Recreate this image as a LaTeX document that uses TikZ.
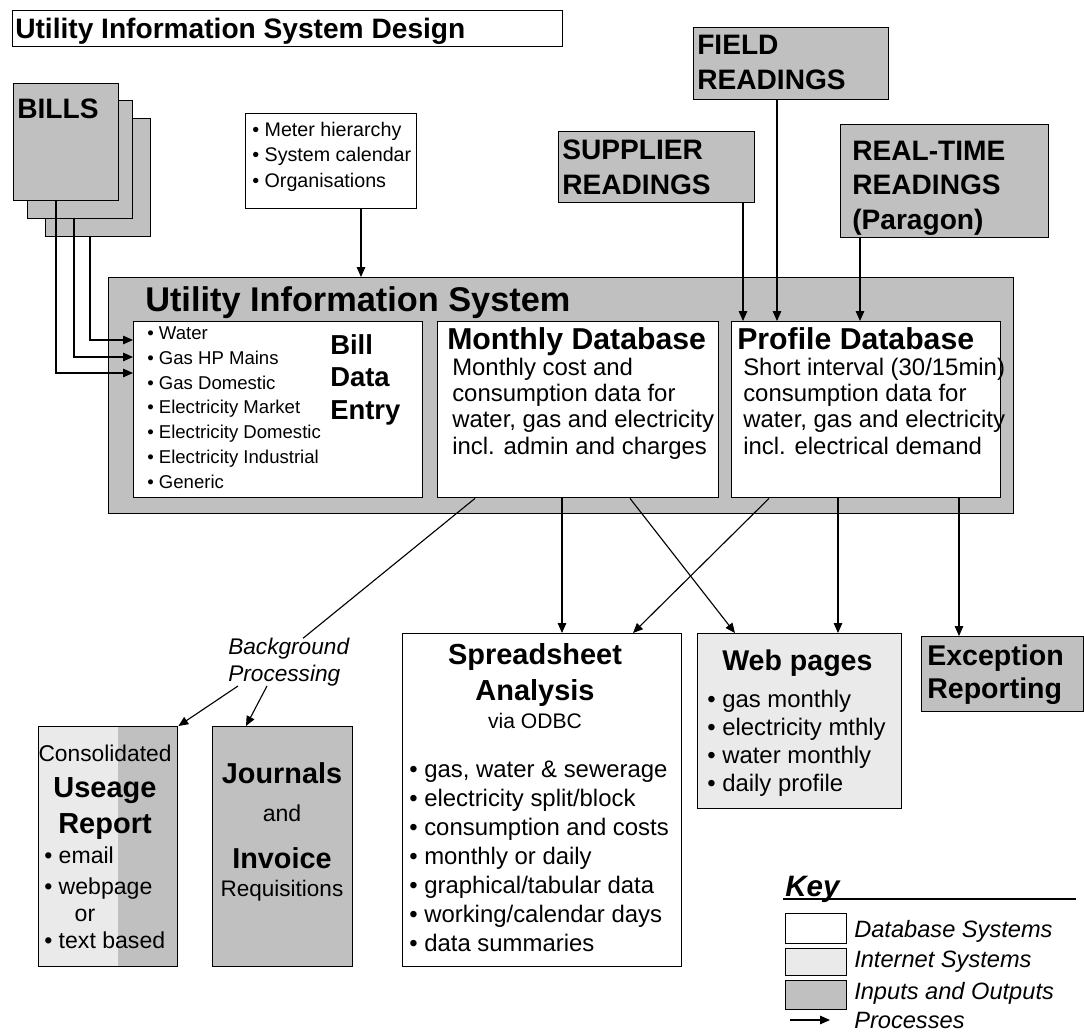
\documentclass[tikz,border=0pt]{standalone}
\usepackage{fontspec}
\setmainfont{Liberation Sans}
\usetikzlibrary{arrows.meta,calc}
\definecolor{boxgray}{RGB}{192,192,192}
\definecolor{netgray}{RGB}{234,234,234}
\newcommand{\fs}[2]{\fontsize{#1}{#2}\selectfont}
\tikzset{
  boxsize/.style 2 args={minimum width=#1*0.025cm, minimum height=#2*0.025cm},
  dbbox/.style={draw, fill=white, line width=1pt, inner sep=0, anchor=north west},
  netbox/.style={dbbox, fill=netgray},
  iobox/.style={dbbox, fill=boxgray},
  txt/.style={inner sep=0, anchor=base west, align=left},
  ctxt/.style={inner sep=0, anchor=base, align=center},
  flow/.style={->, line width=0.8pt}}

\begin{document}
\begin{tikzpicture}[x=0.025cm, y=-0.025cm, >={Triangle[length=7pt,width=6pt]}]
  \useasboundingbox (0,0) rectangle (1084,1033);

  \node[dbbox, boxsize={550}{36}] (titlebox) at (12,10) {};
  \node[txt, font=\fs{20}{24}\bfseries] (title) at (15,38) {Utility Information System Design};

  % bills, back to front
  \node[iobox, boxsize={105}{118}] (bill3) at (45,118) {};
  \node[iobox, boxsize={105}{118}] (bill2) at (27,100) {};
  \node[iobox, boxsize={105}{117}] (bill1) at (13,83) {};
  \node[txt, font=\fs{20}{24}\bfseries] (bills) at (17,118) {BILLS};

  \node[dbbox, boxsize={171}{95}] (meter) at (245,113) {};
  \node[txt, font=\fs{14}{17.8}] (meterlist) at (252,187)
    {• Meter hierarchy\\• System calendar\\• Organisations};

  % multi-line texts sit on the baseline of their last line
  \node[iobox, boxsize={195}{72}] (field) at (693,27) {};
  \node[txt, font=\fs{20}{24.7}\bfseries] (fieldtxt) at (697,89) {FIELD\\READINGS};
  \node[iobox, boxsize={196}{71}] (supplier) at (558,131) {};
  \node[txt, font=\fs{20}{24.5}\bfseries] (suppliertxt) at (562,194) {SUPPLIER\\READINGS};
  \node[iobox, boxsize={208}{113}] (realtime) at (840,124) {};
  \node[txt, font=\fs{20}{24.5}\bfseries] (realtimetxt) at (852,229) {REAL-TIME\\READINGS\\(Paragon)};

  % the system itself
  \node[iobox, boxsize={905}{236}] (uis) at (108,277) {};
  \node[txt, font=\fs{24.4}{28}\bfseries] (uistitle) at (145,311) {Utility Information System};

  \node[dbbox, boxsize={289}{176}] (billentry) at (133,321) {};
  \node[txt, font=\fs{13.2}{17.6}] (billlist) at (147,488)
    {• Water\\• Gas HP Mains\\• Gas Domestic\\• Electricity Market\\• Electricity Domestic\\• Electricity Industrial\\• Generic};
  \node[txt, font=\fs{19.5}{23.1}\bfseries] (billhead) at (330,419) {Bill\\Data\\Entry};

  \node[dbbox, boxsize={281}{176}] (monthly) at (437,321) {};
  \node[txt, font=\fs{21.5}{25}\bfseries] (monthlyhead) at (447,349) {Monthly Database};
  \node[txt, font=\fs{17}{18.5}] (monthlytxt) at (452,454)
    {Monthly cost and\\consumption data for\\water, gas and electricity\\incl. admin and charges};

  \node[dbbox, boxsize={269}{176}] (profile) at (731,321) {};
  \node[txt, font=\fs{21.5}{25}\bfseries] (profilehead) at (737,349) {Profile Database};
  \node[txt, font=\fs{17}{18.5}] (profiletxt) at (743,454)
    {Short interval (30/15min)\\consumption data for\\water, gas and electricity\\incl. electrical demand};

  % outputs
  \node[dbbox, boxsize={279}{333}] (spread) at (402,633) {};
  \node[ctxt, font=\fs{20.6}{24.9}\bfseries] (spreadhead) at (535,700) {Spreadsheet\\Analysis};
  \node[ctxt, font=\fs{15}{18}] (odbc) at (535,728) {via ODBC};
  \node[txt, font=\fs{17}{20.6}] (spreadlist) at (409,951)
    {• gas, water \& sewerage\\• electricity split/block\\• consumption and costs\\• monthly or daily\\• graphical/tabular data\\• working/calendar days\\• data summaries};

  \node[netbox, boxsize={204}{175}] (web) at (697,633) {};
  \node[txt, font=\fs{20.3}{24}\bfseries] (webhead) at (722,670) {Web pages};
  \node[txt, font=\fs{17}{19.9}] (weblist) at (707,791)
    {• gas monthly\\• electricity mthly\\• water monthly\\• daily profile};

  \node[iobox, boxsize={162}{75}] (exception) at (921,636) {};
  \node[txt, font=\fs{20.3}{22.8}\bfseries] (exceptiontxt) at (927,698) {Exception\\Reporting};

  \fill[netgray] (38,726) rectangle (118,966);
  \fill[boxgray] (118,726) rectangle (177,966);
  \node[draw, line width=1pt, inner sep=0, anchor=north west, boxsize={139}{240}] (useage) at (38,726) {};
  \node[ctxt, font=\fs{16.2}{19}] (consolidated) at (105,761) {Consolidated};
  \node[ctxt, font=\fs{20.6}{24.9}\bfseries] (useagehead) at (105,833) {Useage\\Report};
  \node[txt, font=\fs{16.4}{22}] (useagelist) at (44,894) {• email\\• webpage};
  \node[ctxt, font=\fs{16.4}{19.2}] (useageor) at (85,921) {or};
  \node[txt, font=\fs{16.4}{19.2}] (useagetext) at (44,948) {• text based};

  \node[iobox, boxsize={140}{240}] (journals) at (212,726) {};
  \node[ctxt, font=\fs{20.5}{24}\bfseries] (journalshead) at (282,783) {Journals};
  \node[ctxt, font=\fs{16.4}{19}] (journalsand) at (282,821) {and};
  \node[ctxt, font=\fs{20.5}{24}\bfseries] (invoicehead) at (282,868) {Invoice};
  \node[ctxt, font=\fs{16}{19}] (requisitions) at (282,896) {Requisitions};

  \node[txt, font=\fs{16.1}{18.5}\itshape] (bgproc) at (228,681) {Background\\Processing};

  % connectors
  \draw[flow] ($(meter.south west)+(116,0)$) coordinate (m0) -- (m0 |- uis.north);
  \draw[flow] ($(bill1.south west)+(43,0)$) |- ($(billentry.north west)+(0,52)$);
  \draw[flow] ($(bill2.south west)+(47,0)$) |- ($(billentry.north west)+(0,36)$);
  \draw[flow] ($(bill3.south west)+(45,0)$) |- ($(billentry.north west)+(0,19)$);
  \draw[flow] ($(supplier.south west)+(185,0)$) coordinate (s0) -- (s0 |- profile.north);
  \draw[flow] ($(field.south west)+(84,0)$) coordinate (f0) -- (f0 |- profile.north);
  \draw[flow] ($(realtime.south west)+(20,0)$) coordinate (r0) -- (r0 |- profile.north);

  \draw[line width=0.8pt] ($(monthly.south west)+(38,0)$) -- ($(bgproc.north west)+(75,0)$);
  \draw[flow] ($(bgproc.south west)+(10,0)$) -- (useage.north east);
  \draw[flow] ($(bgproc.south west)+(39,0)$) -- ($(journals.north west)+(34,0)$);
  \draw[flow] ($(monthly.south west)+(125,0)$) coordinate (m1) -- (m1 |- spread.north);
  \draw[flow] ($(monthly.south west)+(193,0)$) -- ($(web.north west)+(38,0)$);
  \draw[flow] ($(profile.south west)+(38,0)$) -- ($(spread.north west)+(231,0)$);
  \draw[flow] ($(profile.south west)+(107,0)$) coordinate (p1) -- (p1 |- web.north);
  \draw[flow] ($(profile.south west)+(228,0)$) coordinate (p2) -- (p2 |- exception.north);

  % key
  \node[txt, font=\fs{21}{25}\bfseries\itshape] (keyhead) at (785,896) {Key};
  \coordinate (keyend) at (1076,899);
  \draw[line width=0.8pt] ($(keyhead.base west)+(-2,3)$) coordinate (k0) -- (k0 -| keyend);
  \node[dbbox, line width=0.8pt, boxsize={61}{30}] (keydb) at (785,913) {};
  \node[netbox, line width=0.8pt, boxsize={61}{27}] (keynet) at (785,948) {};
  \node[iobox, line width=0.8pt, boxsize={61}{29}] (keyio) at (785,980) {};
  \coordinate (keyarrow) at (790,1020);
  \draw[flow] (keyarrow) -- ++(40,0);
  \node[txt, font=\fs{16.8}{20}\itshape] (keydbtxt) at (854,937) {Database Systems};
  \node[txt, font=\fs{16.8}{20}\itshape] (keynettxt) at (854,967) {Internet Systems};
  \node[txt, font=\fs{16.8}{20}\itshape] (keyiotxt) at (854,999) {Inputs and Outputs};
  \node[txt, font=\fs{16.8}{20}\itshape] (keyflowtxt) at (854,1028) {Processes};
\end{tikzpicture}
\end{document}
